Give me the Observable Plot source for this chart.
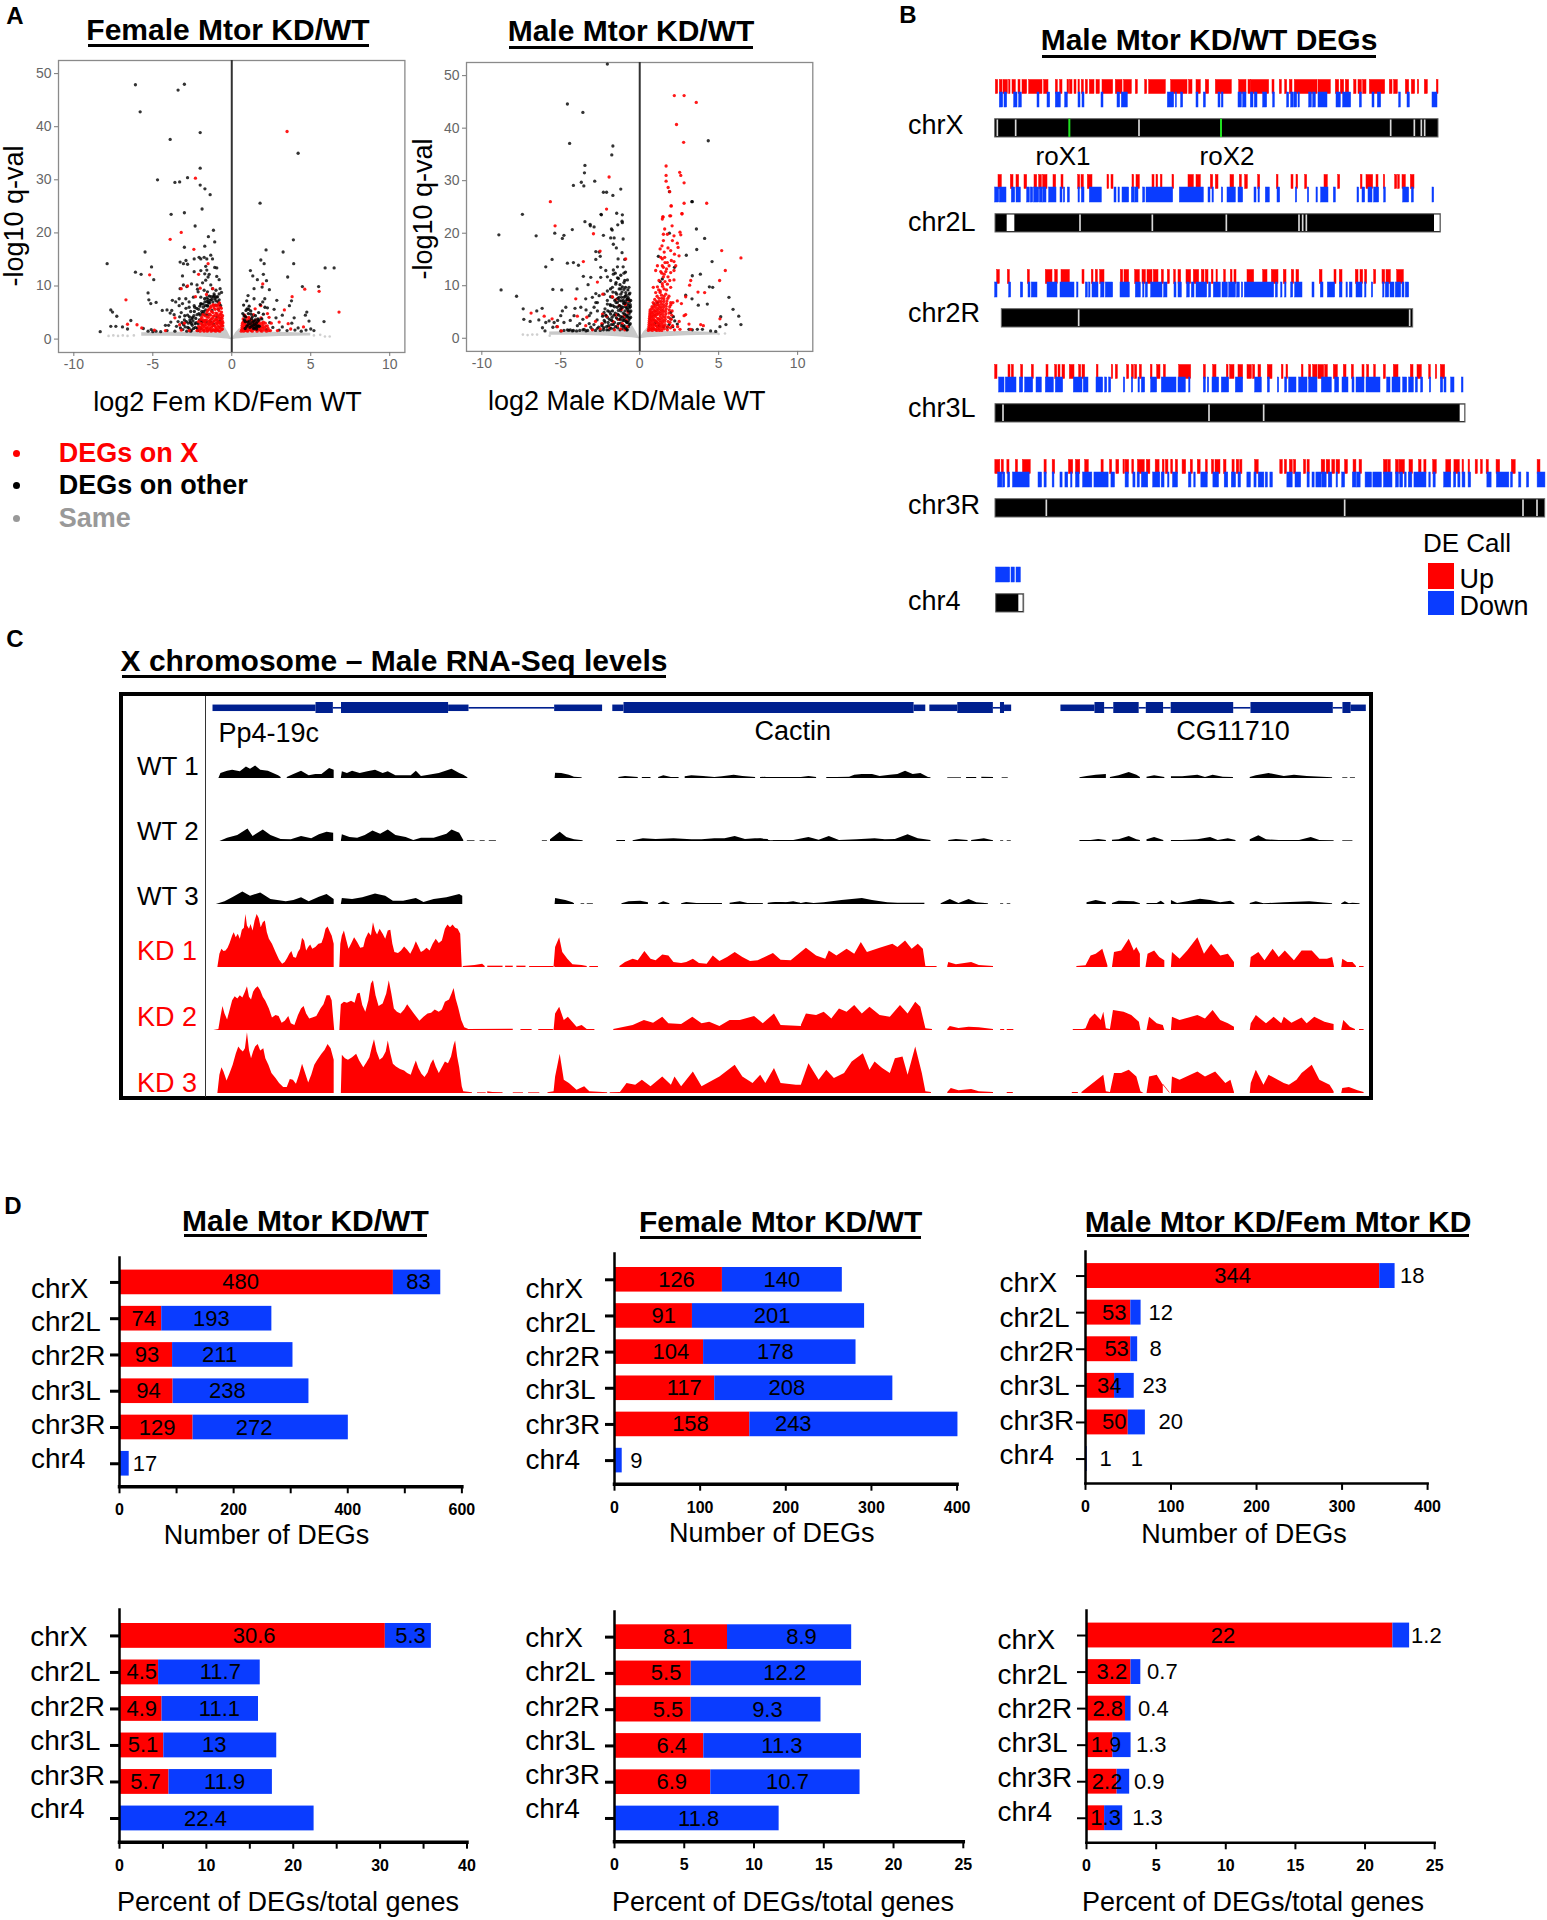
<!DOCTYPE html>
<html>
<head>
<meta charset="utf-8">
<style>
html,body{margin:0;padding:0;background:#fff}
#fig{position:relative;width:1547px;height:1920px;overflow:hidden;background:#fff;font-family:"Liberation Sans",Arial,sans-serif;color:#000}
#fig svg{position:absolute;background:transparent;max-width:none}
.t{position:absolute;white-space:nowrap;line-height:1}
</style>
<script src="https://cdn.jsdelivr.net/npm/d3@7"></script>
<script src="https://cdn.jsdelivr.net/npm/@observablehq/plot@0.6"></script>
</head>
<body>
<div id="fig"></div>
<script>
/* ---------- colours ---------- */
const RED = "#ff0000", BLUE = "#0a3cff", NAVY = "#00208f";

/* ---------- panel D values ---------- */
const chroms = ["chrX","chr2L","chr2R","chr3L","chr3R","chr4"];
const maleCountUp = [480,74,93,94,129,0];
const maleCountDown = [83,193,211,238,272,17];
const femaleCountUp = [126,91,104,117,158,0];
const femaleCountDown = [140,201,178,208,243,9];
const sexCountUp = [344,53,53,34,50,1];
const sexCountDown = [18,12,8,23,20,1];
const malePctUp = [30.6,4.5,4.9,5.1,5.7,0];
const malePctDown = [5.3,11.7,11.1,13,11.9,22.4];
const femalePctUp = [8.1,5.5,5.5,6.4,6.9,0];
const femalePctDown = [8.9,12.2,9.3,11.3,10.7,11.8];
const sexPctUp = [22,3.2,2.8,1.9,2.2,1.3];
const sexPctDown = [1.2,0.7,0.4,1.3,0.9,1.3];

/* ---------- panel A values: log2 fold change, -log10 q (flat pairs) ---------- */
const femaleOther = [
-6.1,47.9,-3,48,-3.4,46.9,-5.8,42.8,-3.9,37.6,-2,38.9,4.2,35,-2,32.2,-4.7,30,-2.8,30.4,-3.3,29.6,-3.6,29.5,-2,29,-1.7,28.3,-1.37,27.2,
1.79,25.6,-1.88,24.5,-3,23.8,-3.84,23.5,-2.32,21.3,-1.16,20.5,-1.48,19.3,-1.08,18.3,-1.71,17.5,-3,17.3,3.9,18.7,2.17,16.8,3.25,16.4,-5.49,16.4,
1.84,14.9,2.05,14.2,3.92,14.2,-7.89,14.2,5.91,13.4,6.48,13.4,1.18,12.9,2,12.2,1.33,11.9,3.54,11.7,-6.1,12.6,-5.74,12.2,-5.08,13.6,-4.94,11.2,
1.62,11.2,2.2,11,1.41,9.5,1.92,9.8,2.38,9.3,4.47,9.9,5.5,9.9,-5.3,8.7,-5.25,7.4,-5.13,6.7,-4.79,6.9,1.03,8.2,1.41,7.6,2.09,7.6,1.96,7,2.85,7.3,
3.65,6.3,3.78,7.2,2.26,5.9,2.68,5.6,3.2,4.5,4.75,5.1,4.66,4.5,3.95,4,4.89,3.4,5.84,3.3,-7.66,5.5,-7.55,5.1,-7.28,4.3,-6.39,3.5,-7.66,2.4,-7.34,2.4,
-6.92,2.3,-6.6,1.9,-8.33,1.4,-5.6,2,-5.1,1.8,-4.8,1.5,-4.5,1.4,-5.3,1.5,-5,1.4,-4.4,5.4,-4.1,5.5,-3.8,5.4,-3.9,4.9,-3.65,4.6,-4.2,2.6,-3.86,3.2,-4.1,1.6,-4,2.6,
-3.27,14.5,-3.06,14.2,-2.9,14.8,-2.8,14.1,-2.38,15.1,-2.07,15.4,-1.96,15.1,-1.75,15.4,-1.58,15.1,-1.33,15.8,-1.22,15.1,-1.65,13.7,-1.58,13,-1.08,13.5,-0.95,13.4,
-2.38,12.7,-1.96,12.9,-1.43,12.2,-1.71,12.3,-1.5,11.7,-0.95,11.8,-0.8,11.2,-3.12,11.9,-2.55,10.4,-2.2,10.2,-1.85,10.6,-1.65,11.1,-1.33,10.2,-3.06,10.2,-2.85,9.9,-3.27,9.5,
-2.13,8.9,-2.17,9.4,-1.75,9.2,-1.22,9.5,-1,9.2,-0.74,9.5,-1.54,8.9,-1.12,8.5,-0.8,8.5,-1.96,7.9,-1.58,7.8,-2.43,7.9,-2.91,7.6,-3.33,7.6,-3.76,7.3,-3.55,7,-3.12,6.7,-2.7,7,-3.33,6.3,-2.7,6,-1.96,6.7,-2.38,6.3,
-3.6,1.5,-3.5,2.4,-3.4,3.3,-3.3,4.2,-3.2,5,-3.1,1.8,-3,3.6,-2.95,2.3,-2.9,5.8,-2.85,1.5,-2.8,4.5,-2.75,3,-2.7,2,-2.65,3.6,-2.6,5.2,-2.55,1.7,-2.5,2.6,-2.45,3.4,-2.4,4.4,-2.35,6,-2.3,2.2,-2.25,3.1,-2.2,4.6,-2.15,1.6,-2.1,5.6,-2.05,3.6,-2,4.5,-1.95,6.6,-1.9,5.2,-1.85,3.2,-1.8,6,-1.75,4.6,-1.7,7,-1.65,5.5,-1.6,3.2,-1.55,6.4,-1.5,7.5,-1.45,4.6,-1.4,6.8,-1.35,3.3,-1.3,8,-1.25,5.4,-1.2,7,-1.15,2.8,-1.1,8.2,-1.05,6.4,-1,7.2,-0.95,4.2,-0.9,8,-0.85,5.6,-0.8,7.4,-0.75,3.4,-0.7,6.3,-0.65,8.8,
5.2,1.6,5,1.9,4.7,1.7,4.4,1.5,4.2,2.1,4,1.7,3.8,3,3.5,1.6,3.2,2.3,3,1.7,2.8,4,2.6,2.2,2.4,3.1,2.2,1.8
];
const femaleOtherDense = [
-2.6,1.5,-2.55,2.9,-2.48,4.1,-2.42,2,-2.37,5.2,-2.32,2.9,-2.28,3.9,-2.22,5.8,-2.18,2,-2.12,2.9,-2.08,4.8,-2.02,6.2,-1.97,2,-1.92,3.4,-1.87,4.8,-1.82,6.6,-1.77,5.2,-1.72,7.6,-1.67,6.3,-1.62,4.6,-1.57,7.1,-1.52,6.2,-1.47,6.9,-1.42,8.1,-1.37,7.3,-1.27,7.5,-1.17,8,-1.07,7.6,-0.97,7.9,-0.87,7,-0.77,6.6,-3.05,2.7,-3.15,3.1,-3.25,2.1,-2.98,4.4,-2.88,3.3,-2.78,2.2,-2.68,4.2,-2.62,3.2,-2.52,3.8,
0.7,4.8,0.75,6.4,0.8,3.6,0.85,2,0.9,5.4,0.95,7.2,1,3.2,1.05,4.8,1.1,6.2,1.15,2.2,1.2,5.3,1.25,3.8,1.3,4.2,1.35,2.6,1.4,3.4,1.45,2.1,1.5,4.4,1.55,3,1.6,2.3,1.65,3.8,1.7,5,1.75,2.4,1.8,6.5,1.9,3.8,2,4.7,2.1,6,
0.85,3.3,0.95,2.4,1.03,2.7,1.12,3.4,1.18,2.9,1.25,2.4,1.32,3.2,1.38,2,1.42,2.8,1.47,3.6,1.52,2.6,1.57,1.9,1.62,3.3,1.67,2.5,1.72,3.6,0.78,4.4,0.88,4.2,0.97,5.7,1.07,5.6,1.22,4.7
];
const femaleX = [
3.5,39.1,-2.3,30.3,-6.7,7.4,-2.4,16.9,-3.9,18.8,-3.2,20.1,-2.1,12.2,-5.2,12.1,-3.2,9.5,-2.8,10,-2,9.6,-1.5,14.2,-2.3,8,-1.6,8.4,-6.6,2.8,-6,2.7,-5.7,2.1,-4.9,1.7,-3.6,4,-3.3,2.7,-3,3,-3.2,1.7,-2.7,1.6,-4.2,1.6,-1.2,9.5,
6.79,5.1,5.53,9,4.62,9.4,3.82,8,3.33,5.5,1.96,10.4,1.84,6.3,2.26,4.8,3,3.2,3.57,2.9,3.73,1.9,4.54,2.3,2.89,1.6,2.36,4.1,1.48,5.7,
-2.2,1.6,-2.1,2.4,-2.1,3.3,-2,1.5,-2,2.2,-1.95,3,-1.9,4.1,-1.85,1.8,-1.85,2.7,-1.8,3.6,-1.75,1.5,-1.75,2.3,-1.7,3.1,-1.7,4.4,-1.65,1.9,-1.62,2.7,-1.6,3.6,-1.58,5,-1.55,1.5,-1.52,2.2,-1.5,3,-1.48,4.1,-1.45,5.6,-1.42,1.8,-1.4,2.6,-1.38,3.5,-1.35,4.5,-1.32,6.2,-1.3,1.5,-1.28,2.2,-1.25,3,-1.22,3.9,-1.2,5,-1.18,6.5,-1.15,1.8,-1.12,2.6,-1.1,3.4,-1.08,4.4,-1.05,5.6,-1.02,1.5,-1,2.1,-0.98,3,-0.96,3.8,-0.94,4.8,-0.92,6.2,-0.9,1.7,-0.88,2.5,-0.85,3.3,-0.83,4.2,-0.8,5.3,-0.78,6.8,-0.76,1.5,-0.74,2.1,-0.72,2.9,-0.7,3.8,-0.68,4.7,-0.66,5.8,-0.64,1.8,-0.62,2.6,-0.6,3.4,-0.58,4.4,
-2.05,1.9,-1.95,3.7,-1.88,2.2,-1.78,1.7,-1.72,2.6,-1.68,3.5,-1.6,2.1,-1.57,4.2,-1.53,1.7,-1.47,2.8,-1.44,3.4,-1.41,4.7,-1.37,2,-1.33,2.9,-1.31,3.8,-1.28,5.2,-1.24,1.7,-1.21,2.5,-1.19,3.3,-1.16,4.3,-1.13,5.9,-1.1,1.6,-1.06,2.4,-1.04,3.7,-1.01,4.9,-0.99,6.4,-0.97,1.9,-0.93,2.9,-0.91,3.5,-0.89,4.4,-0.87,5.7,-0.84,1.6,-0.82,2.2,-0.8,3.1,-0.77,3.9,-0.75,4.6,-0.73,6,-0.71,2.4,-0.69,3.2,-0.67,4.1,-0.65,5.1,-0.63,2.9,-0.61,3.9,-0.59,1.9,-0.57,2.5,-0.56,3.1,-1.9,2.7,-1.82,4.6,-1.76,3.3,-1.52,5.4,-1.35,5.9,-1.15,6.3,-0.86,6.5,
0.6,1.5,0.65,2.2,0.68,3,0.72,3.8,0.75,1.5,0.8,2.4,0.82,4.5,0.85,3.1,0.9,1.7,0.92,2.6,0.98,3.6,1,1.5,1.02,2.2,1.08,4.1,1.1,3,1.15,1.8,1.2,2.6,1.25,3.5,1.3,1.5,1.33,2.2,1.38,4.6,1.4,3,1.45,1.8,1.5,2.5,1.55,3.6,1.6,1.5,1.65,2.2,1.7,3,1.75,1.8,1.8,2.6,1.85,4,1.9,1.5,1.95,2.3,2,3.2,2.05,1.7,2.15,2.4,2.2,1.5,2.3,2,2.45,1.6,2.5,3,
0.63,1.8,0.66,2.6,0.7,1.9,0.74,3.3,0.78,2,0.81,2.9,0.84,1.6,0.88,3.4,0.91,4.1,0.94,2.1,0.97,1.6,1.03,3.3,1.06,2.6,1.09,1.8,1.13,3.8,1.17,2.3,1.22,1.6,1.27,3,1.31,2,1.36,3.3,1.42,2.4,1.47,3.1,1.52,2,1.57,2.9,1.62,1.8,1.67,2.6,1.72,3.4,1.78,2.1,1.83,1.6,1.88,3,1.93,2,1.98,2.7,2.08,2.1,2.12,3,2.25,2.5,2.35,1.6
];
const femaleSameFar = [-7.8,0.6,-7.5,0.7,-7.2,0.6,-6.9,0.7,-6.6,0.6,-6.2,0.7,5.9,0.5,6.2,0.5,5.6,0.8,5.2,0.7];
const maleOther = [
-2.05,52.2,-4.58,44.6,-3.6,43,-4.44,37.1,-1.7,36.6,-1.77,34.9,-3.47,32.9,-3.5,31.5,-2.85,29.9,-3.7,29.7,-4.2,29.1,-3.54,29,-1.2,28.4,-2.3,27.8,-2.1,27.8,-1.7,27.2,
-7.43,23.6,-2.43,23.5,-1.46,23.8,-1.1,23.5,-3.47,22.2,-3.13,21.4,-1.1,22,-1.39,21.6,-1.74,20.6,-4.27,20.7,-8.92,19.7,-6.56,19.5,-5.38,20,-4.8,19.6,-4.9,19,4.34,37.6,3.3,26,
-8.78,9.2,-7.8,8,-7.38,5.6,-6.52,5.2,-6.18,5.7,-7.34,3.6,-6.94,3.2,-6.39,3.5,-5.95,13.6,-5.55,15,-5.5,9.3,-4.94,9.2,-4.58,14.3,-4.2,14.4,-3.88,13.9,-3.97,9.4,-3.57,11.8,-3.1,11.6,-3.27,10.2,-3.42,7.5,-2.78,8.5,-3,7.8,-2.57,8.1,-2.78,6.8,
-3.14,21.7,-2.89,21.2,-2.45,23.6,-1.12,22.3,-1.79,20.8,-2.3,19.6,-1.84,19.1,-1.62,19.1,-1.05,18.9,-1.67,17.9,-1.48,17.2,-2.78,16.5,-2.57,16.4,-1.12,16.3,-2.5,15.6,-2.78,15,-1.37,15.1,-0.95,15,
-2.47,13.5,-2.15,12.9,-1.41,13.6,-1.67,13,-1.05,13.6,-1.67,12.2,-1,12.4,-2.05,11.7,-2.47,11.6,-1.41,11.5,-0.78,11.1,-1.84,11,-1.52,10.3,-1,10.6,-0.68,9.7,-1.2,9.4,-1.73,9.7,-2.05,9,-2.26,8.4,-1.52,8.7,-0.89,8.7,-1.2,8.4,-1.73,7.8,-1.31,7.8,-0.78,7.5,-1,6.8,-1.41,6.8,-1.84,6.2,-2.05,6.5,-2.68,6.8,-2.89,5.9,-3.2,4.3,-2.68,5.2,-3.73,5.9,-4.16,4.3,-4.68,5.9,-4.9,5.2,-5,4.3,-5.42,3,-5.74,3.3,-5.95,3,-6.16,2,-6,1.4,-5.25,2.2,-5,1.4,-4.58,1.6,-4.26,1.4,-3.95,2.4,-3.52,1.7,-3.1,2.1,-2.68,1.9,-2.36,2.7,-2.05,4,-1.84,4.6,-2.26,4.9,
-4.8,1.5,-4.5,1.5,-4.4,1.6,-4.2,1.5,-4,1.4,-3.8,1.5,-3.6,1.6,-3.4,1.4,-3.3,1.5,-3.2,2.8,-3,1.7,-2.9,2.6,-2.8,1.5,-2.7,3.5,-2.6,2.1,-2.5,1.5,-3.4,5.4,-3.6,3.6,-3.8,2.8,-4.4,3.4,-4.8,3,-5.2,3.4,-5.5,2.1,-4.1,5.7,-3.1,4.8,
-2.3,1.6,-2.25,3.4,-2.2,5.6,-2.1,2.2,-2.05,7.2,-2,3,-1.95,1.6,-1.9,5,-1.85,7.9,-1.8,2.6,-1.75,4,-1.7,6.2,-1.65,1.8,-1.6,3,-1.55,4.8,-1.5,6.8,-1.45,8.4,-1.4,2,-1.38,3.6,-1.35,5.3,-1.3,7.2,-1.25,1.6,-1.22,2.9,-1.2,4.1,-1.18,6,-1.15,7.8,-1.12,8.8,-1.1,1.8,-1.08,3.4,-1.05,4.8,-1.02,6.6,-1,7.8,-0.98,2.4,-0.95,3.8,-0.93,5.2,-0.9,6,-0.88,7,-0.86,8.2,-0.84,1.6,-0.82,3,-0.8,4.2,-0.78,5.5,-0.76,6.6,-0.74,7.8,-0.72,2.2,-0.7,3.4,-0.68,4.6,-0.66,5.8,-0.64,7,-0.62,8.6,-0.6,2.8,-0.58,4,-0.56,5.2,-0.6,6.4,-1.2,5.2,-1.4,4.6,-1.6,6,-1.7,8.8,-1.3,9.4,-1,9.3,
1.88,27.9,3.33,26,3.59,20.8,4.11,19,3.61,16.9,2.95,15.8,4.58,14.6,1.88,20,3.84,12.2,3.33,11.9,4.41,9.8,4.62,9.7,2.91,8.2,3.31,7.5,3.71,6.3,4.28,6.5,5.65,7.8,5.91,5.5,6.27,4.2,6.41,2.6,5.46,2.6,5.13,4.1,4.81,1.3,5.08,2.2,4.49,1.4,3.97,1.7,3.65,1.7,3.33,1.6,3.12,1.7
];
const maleOtherDense = [
-2.4,2.4,-2.35,4.2,-2.28,2,-2.2,3.1,-2.15,4.4,-2.08,1.6,-2.02,5.2,-1.98,2.4,-1.92,3.6,-1.87,6.4,-1.82,1.9,-1.78,3.4,-1.73,5.2,-1.68,2.6,-1.63,4.4,-1.58,7.2,-1.53,2.2,-1.48,3.9,-1.43,5.9,-1.39,7.6,-1.36,2.8,-1.33,4.4,-1.28,6.2,-1.24,3.6,-1.21,5.6,-1.17,7.1,-1.14,2.4,-1.11,4,-1.07,5.9,-1.04,7.2,-1.01,2.2,-0.99,3.4,-0.96,4.6,-0.94,6.6,-0.92,8,-0.89,1.9,-0.87,3.2,-0.85,4.4,-0.83,5.8,-0.81,7.4,-0.79,1.6,-0.77,3,-0.75,4,-0.73,5.2,-0.71,6.2,-0.69,7.4,-0.67,8.4,-0.65,2.6,-0.63,3.8,-0.61,5,-0.59,6,-0.57,7.2,-1.1,9.8,-0.9,9.7,-0.75,9.2,-1.25,10.2,-1.5,10.6,-1.35,11.4,-1.85,9.4,-0.95,11,-1.2,12,-1.55,12.4,-0.9,12.6,
1.96,4.9,2.13,4.1,1.96,3.7,2.22,3.3,2.38,2.7,1.86,2.6,1.75,2.1,2.09,2.2,1.01,3,1.22,2.4,1.5,2.2,0.91,6.5,1.12,6.8,1.43,11.3,1.29,10.8,2.2,13.5,1.18,15.6
];
const maleX = [
2.19,46.2,2.81,46.2,3.58,44.9,2.33,40.7,2.78,37.3,1.67,32.8,2.53,31.6,1.67,31,2.6,31,2.81,29.6,1.67,29.9,1.8,28.7,1.9,27.9,2.81,25.7,4.24,25.7,1.98,25.2,2.67,23.7,1.46,23.1,1.9,23.3,
2,25.2,1.48,23.1,1.96,23.3,2.68,23.7,1.43,22.7,2.05,21.4,1.58,20.8,2.55,20.2,2.6,19.7,1.5,19.8,1.75,19.8,2.17,19.5,2.07,18.6,1.5,18.6,2.38,18.1,2.43,17.3,1.41,17.6,1.79,17.2,1.96,16.7,1.29,17,2.2,16,2.49,15.7,1.33,15.4,1.43,15.1,1.58,15.4,1.75,14.4,2.17,14.6,1.12,13.8,1.43,13.8,1.86,13.8,2.28,13.8,1.01,12.9,1.33,12.7,1.65,12.7,1.96,12.5,2.17,12.9,1.5,11.7,1.79,11.7,2.17,11.1,1.22,11,1.43,10.4,1.75,10.3,0.86,9.7,1.12,9.8,1.54,9.4,1.96,9.7,1.29,8.7,1.01,8.7,1.65,8.4,1.96,6.8,2.38,7.1,2.64,6.6,2.91,7.9,3.23,11,3.16,10.1,3.69,8.8,4.11,8.7,5.19,16.7,6.41,15.3,5.42,12.9,5.06,11,2.81,4.3,2.91,4.5,3.12,2.7,3.86,2.6,4.03,2.4,5.08,3.7,2.55,1.7,3.23,1.7,
-5.66,26,-1.94,30.7,-2.1,24.6,-5.36,21.4,-2.93,19.9,-3.57,14.6,-0.89,15.1,-2.68,10.7,-4.05,7.5,-6.88,4.8,-6.05,4.2,-5.55,3.7,-5.21,2.2,-4.96,1.4,-3.95,4.2,-3.35,4,-3.42,2.4,-2.36,4.6,-2.34,8.4,-1.73,7.9,-2.51,16.6,
-1.9,2,-1.7,3.2,-1.6,1.6,-1.5,4.4,-1.4,2.4,-1.3,3.6,-1.2,1.8,-1.15,5.5,-1.1,2.8,-1,4.2,-0.95,1.6,-0.9,6.4,-0.85,3.4,-0.8,2.2,-0.75,5,-0.7,7.2,-1.3,6.2,-1.5,7.4,-2.1,4.2,-2.4,2.8,-2.5,1.8,-2.8,3.2,-3,1.6,
0.55,1.5,0.58,2.2,0.6,3,0.62,3.8,0.64,4.6,0.66,5.4,0.68,1.6,0.7,2.5,0.72,3.4,0.74,4.2,0.76,5,0.78,6,0.8,1.5,0.82,2.1,0.84,2.9,0.86,3.7,0.88,4.5,0.9,5.4,0.92,6.5,0.94,1.7,0.96,2.5,0.98,3.3,1,4.1,1.02,4.9,1.04,5.8,1.06,7,1.08,1.5,1.1,2.2,1.12,3,1.14,3.8,1.16,4.6,1.18,5.5,1.2,6.4,1.22,7.6,1.24,1.8,1.26,2.6,1.28,3.4,1.3,4.3,1.32,5.1,1.34,6,1.36,7,1.38,8.2,1.4,1.5,1.42,2.3,1.44,3.1,1.46,4,1.48,5,1.5,5.9,1.52,7,1.54,8,1.56,1.8,1.6,2.6,1.62,3.6,1.65,4.6,1.68,5.6,1.7,6.6,1.75,1.6,1.78,7.6,1.8,3.2,1.85,4.8,1.9,6,1.95,2,2,3.6,2.05,5.2,2.1,6.8,2.2,1.6,2.4,2.2,2.5,3.2,
0.57,1.8,0.59,2.6,0.61,3.4,0.63,4.2,0.65,5,0.67,2,0.69,2.9,0.71,3.8,0.73,4.6,0.75,5.6,0.77,1.8,0.79,2.5,0.81,3.3,0.83,4.1,0.85,4.9,0.87,5.9,0.89,1.9,0.91,2.7,0.93,3.5,0.95,4.4,0.97,5.2,0.99,6.2,1.01,1.6,1.03,2.4,1.05,3.2,1.07,4.5,1.09,5.3,1.11,6.4,1.13,1.9,1.15,2.8,1.17,3.6,1.19,4.9,1.21,5.9,1.23,7,1.25,1.5,1.27,2.2,1.29,3,1.31,3.8,1.33,4.7,1.35,5.5,1.37,6.5,1.39,7.6,1.41,1.9,1.43,2.7,1.45,3.5,1.47,4.5,1.49,5.4,1.51,6.4,1.53,7.5,1.55,2.3,1.58,3.2,1.61,4.1,1.64,5.1,1.67,6.1,1.72,7.1,1.77,2.2,1.82,4,1.87,5.4,1.92,3,1.97,6.4,2.03,4.4,2.08,2.4,1.3,9,1.45,9.9,1.6,10.8,1.7,9.2,1.85,8,1.1,8,1.2,9.2,0.95,7.4,0.85,6.8,1.55,12.2,1.7,13.2,1.4,12.4,1.9,11,1.5,13.5,1.6,14.4,1.55,16.4,2,14.8
];
const maleSameFar = [-7.4,0.7,-7.1,0.6,-6.8,0.7,-6.5,0.7,-5.7,0.5,5,0.8,5.4,0.9];
/* envelope of the solid grey "Same" cloud: log2 FC, lower, upper */
const sameFc   = [-5.7,-4,-3,-2,-1.2,-0.8,-0.5,-0.25,-0.05,0.05,0.25,0.5,0.8,1.5,3,5];
const sameLow  = [0.55,0.55,0.5,0.4,0.25,0.15,0.08,0,-0.1,-0.1,0,0.08,0.15,0.3,0.5,0.6];
const sameHigh = [1.2,1.3,1.3,1.5,1.6,2,2.6,1.4,0.2,0.2,1.2,2,1.4,1.3,1.3,1.1];

/* ---------- panel B values: gene intervals along each chromosome (start,end) ---------- */
const chrXUp = [10,17,22,30,33,46,50,54,60,70,78,84,90,104,110,150,155,168,190,196,203,210,225,230,232,240,246,252,258,262,268,274,280,286,292,306,312,322,330,362,370,390,395,418,430,436,458,464,470,520,536,585,590,600,612,625,640,650,670,718,740,762,768,775,775,830,840,846,862,868,878,884,892,900,907,975,978,1015,1030,1040,1045,1055,1060,1070,1085,1092,1098,1108,1112,1122,1132,1178,1192,1200,1205,1216,1240,1250,1258,1268,1276,1280,1297,1306,1333,1338];
const chrXDown = [22,32,36,44,65,75,80,88,135,141,165,173,190,205,218,226,258,264,270,276,327,333,375,383,388,406,526,545,550,553,566,572,612,618,634,640,678,684,688,693,738,748,752,762,775,783,787,795,812,824,842,847,884,890,896,904,906,914,918,922,950,958,962,970,978,1005,1032,1045,1052,1076,1102,1108,1140,1146,1156,1166,1220,1225,1245,1252,1320,1335];
const chr2LUp = [18,28,55,63,72,80,96,104,126,134,140,148,152,165,183,191,207,213,257,263,267,274,286,300,345,350,357,363,420,425,432,442,480,486,492,497,505,510,540,545,588,604,612,625,655,662,670,678,714,725,742,748,758,766,797,803,853,858,897,903,912,917,938,944,996,1006,1037,1043,1105,1110,1122,1142,1152,1158,1174,1178,1208,1214,1217,1222,1230,1240,1255,1266];
const chr2LDown = [8,20,22,42,58,68,72,85,104,112,115,122,125,140,142,150,152,162,170,192,204,210,214,218,226,232,258,262,268,276,292,328,366,372,378,382,390,410,418,426,428,438,452,458,462,542,562,634,648,654,660,664,688,692,705,730,738,752,786,792,798,802,820,832,855,863,910,914,946,950,972,976,986,1008,1024,1030,1095,1100,1110,1118,1128,1140,1145,1160,1175,1180,1232,1250,1258,1264,1320,1325];
const chr2RUp = [14,22,46,52,106,112,160,180,188,196,207,232,270,276,298,303,310,316,323,336,385,392,396,410,428,442,450,460,465,480,484,498,508,514,526,532,545,550,558,566,582,596,604,620,628,636,640,648,658,663,672,676,695,700,715,720,726,732,765,785,812,825,838,858,874,882,898,905,912,920,982,990,1026,1032,1042,1050,1090,1098,1104,1112,1118,1124,1145,1151,1170,1178,1182,1195,1214,1234];
const chr2RDown = [8,15,50,56,85,92,108,114,118,135,165,195,204,246,254,258,280,286,290,294,300,318,326,336,340,362,384,412,430,445,452,456,460,466,476,510,515,525,546,552,558,568,584,592,598,606,612,644,650,656,664,685,690,706,710,730,734,742,748,752,757,845,850,856,866,870,878,882,896,902,908,930,960,966,985,993,1006,1028,1042,1050,1062,1066,1072,1080,1092,1110,1118,1122,1138,1142,1172,1176,1180,1190,1194,1206,1210,1226,1230,1236,1240,1250];
const chr3LUp = [8,15,48,54,58,64,86,92,118,124,162,168,188,194,198,204,210,218,232,246,260,266,270,278,313,318,358,362,370,376,404,410,418,424,428,434,442,448,475,480,494,504,514,520,560,596,634,640,662,672,703,708,713,726,738,752,765,778,782,788,798,806,826,840,868,873,882,887,928,933,950,956,962,975,978,995,998,1006,1024,1036,1054,1062,1078,1084,1110,1116,1124,1130,1145,1150,1174,1180,1204,1218,1255,1263,1275,1288,1310,1315,1330,1334,1345,1358];
const chr3LDown = [20,36,40,72,82,92,98,122,132,148,160,184,190,212,244,270,274,288,312,332,338,344,350,356,394,398,418,422,438,442,448,458,476,494,508,552,558,580,590,594,634,640,646,650,660,680,688,710,730,752,788,808,826,832,856,860,878,884,890,912,920,945,950,975,988,1018,1028,1040,1050,1068,1080,1086,1092,1116,1122,1164,1184,1194,1200,1224,1232,1244,1250,1264,1270,1276,1286,1292,1312,1316,1345,1352,1356,1362,1376,1386,1408,1413];
/* chr3R was read at a slightly lower magnification: see chr3RRead below */
const chr3RUp = [8,22,26,32,42,48,66,72,86,108,147,153,170,177,216,228,236,248,262,272,308,314,332,338,350,358,370,374,376,386,395,400,411,430,436,446,461,472,481,486,490,497,505,510,518,524,537,547,560,566,580,588,603,608,620,626,630,644,654,661,678,684,690,697,700,706,742,752,813,820,826,832,840,848,852,858,880,886,890,896,930,940,944,954,960,968,972,982,996,1004,1020,1028,1037,1044,1106,1116,1118,1125,1140,1148,1150,1165,1178,1188,1205,1212,1220,1226,1245,1255,1282,1296,1305,1320,1328,1332,1345,1349,1365,1371,1380,1385,1396,1402,1424,1434,1467,1478,1540,1548];
const chr3RDown = [16,28,30,36,44,50,58,105,130,140,147,153,170,175,192,198,206,214,222,226,236,246,256,282,288,328,336,346,376,385,398,404,410,416,422,440,454,474,478,486,496,500,510,524,555,562,570,574,590,608,624,640,656,666,676,688,695,702,720,730,740,746,752,768,772,778,785,792,833,848,856,872,890,896,904,910,915,930,932,944,950,960,972,976,988,996,1018,1028,1030,1040,1054,1072,1076,1100,1106,1130,1140,1148,1152,1160,1165,1170,1176,1186,1192,1226,1234,1238,1246,1252,1276,1296,1304,1310,1316,1322,1328,1336,1345,1352,1398,1410,1425,1460,1465,1470,1488,1494,1510,1516,1540,1562];
const chr4Down = [11,53,57,67,72,85];
const chromExtent = {chrX:[8,1338],chr2L:[9,1345],chr2R:[28,1262],chr3L:[9,1419],chr3R:[9,1658],chr4:[11,95]};
const chromNarrowGaps = {chrX:[16,71,441,1196,1267,1288,1298],chr2L:[264,481,703,921,932,943],chr2R:[260,1253],chr3L:[33,651,815],chr3R:[163,1058,1593,1635],chr4:[]};
const chromWideGaps = [["chr2L",44,67],["chr2L",1326,1343],["chr3L",1403,1417],["chr4",79,92]];
const roXGenes = [232,687];
const chr3RRead = 3/2.825;

/* ---------- panel C values: coverage profiles, position then height, segment by segment ---------- */
const wt1Left = [
[428,0,432,15,445,22,455,25,470,20,482,35,490,28,500,38,510,25,525,22,545,8,550,3],
[562,3,575,12,590,22,605,8,618,12,630,12,645,30,654,25,654,0],
[668,0,670,20,680,15,690,22,705,15,720,20,735,25,750,15,760,20,775,8,805,8,815,22,825,6,840,10,860,15,885,28,900,15,908,10,916,2],
[1087,0,1088,16,1100,15,1115,10,1125,4,1140,2],
[1212,3,1225,6,1250,3],[1258,3,1275,3],[1290,3,1300,8,1315,3,1330,3],[1342,5,1355,8,1378,6,1400,3,1415,5,1438,10,1455,6,1480,3],[1490,3,1500,4]];
const wt1Right = [
[20,3,100,3,115,6,130,3],[150,3,170,3,195,4,205,10,220,12,240,12,255,6,275,10,290,12,305,22,320,12,335,15,350,3,355,2],
[388,2,415,2],[425,3,445,3],[455,4,478,3],[495,2,507,2],
[648,2,662,6,680,10,700,12,700,0],[708,3,725,8,745,18,760,10,767,3],[780,4,795,8,815,3],[828,5,850,5,880,10,895,3,910,10,930,4,950,3],[983,3,995,8,1020,15,1050,6,1070,10,1095,6,1145,2],[1165,2,1175,2],[1180,2,1190,2]];
const wt2Left = [
[430,0,445,10,465,18,485,38,495,15,515,35,530,18,550,6,570,5,590,15,610,8,625,20,640,28,653,25,653,0],
[668,0,670,20,685,12,700,10,715,18,730,32,745,22,760,35,775,18,795,12,810,3,825,10,850,10,875,22,885,35,900,25,908,3],
[915,2,930,2],[940,2,950,2],[958,2,972,2],[1062,2,1072,2],[1078,5,1097,28,1110,12,1125,5,1142,2],
[1208,3,1225,3],[1240,2,1260,8,1285,6,1320,8,1355,5,1375,5,1400,8,1420,8,1440,15,1460,6,1480,8,1505,6],[1515,2,1530,3,1565,2]];
const wt2Right = [
[0,3,20,8,40,2,60,3,85,3,115,12,135,4,155,15,175,3,210,5,245,8,265,5,285,6,310,20,330,8,355,3],
[390,3,405,6,428,3],[435,3,460,8,478,2],[492,2,498,2],[505,2,513,2],[648,3,670,3,685,6,700,3],[712,4,725,5,745,15,760,5,767,3],[780,5,795,12,813,3],[828,3,850,3,880,5,905,12,920,3,940,8,955,3],[983,5,1000,17,1015,5,1040,3,1080,3,1103,12,1120,3,1148,2],[1165,2,1185,2]];
const wt3Left = [
[423,0,440,8,455,20,475,38,490,25,510,35,530,15,560,8,575,12,590,20,605,8,625,22,640,30,654,15,654,0],
[668,0,670,18,690,15,710,20,735,32,755,25,770,10,790,10,815,18,830,6,850,15,875,20,900,30,906,25,906,0],
[1087,0,1088,18,1108,12,1122,5,1125,2],[1138,2,1145,2],[1150,2,1162,2],[1218,2,1232,8,1255,10,1270,5],[1290,2,1300,8,1312,2],[1335,2,1345,6,1365,3,1415,3],[1430,4,1450,8,1465,3,1495,2],[1505,3,1530,6,1550,3,1568,4]];
const wt3Right = [
[0,2,25,2],[35,4,50,6,70,5,85,8,100,3,110,6,125,3,145,5,180,12,200,15,220,18,240,12,270,5,290,4,343,4,343,0],
[375,2,393,15,410,3,430,15,445,5,468,2],[492,2,498,2],[505,2,512,2],[662,5,680,12,700,5,700,0],[712,3,725,10,755,8,767,2],[780,3,800,3,808,10,815,2],[828,12,840,3,860,8,885,16,905,12,925,5,945,10,953,2],[983,3,995,8,1010,2,1020,3,1050,5,1100,8,1145,2],[1163,2,1170,8,1178,2,1185,4,1199,2]];
const kd1Left = [
[426,0,430,40,434,55,438,48,442,50,446,58,450,72,455,95,458,105,462,90,466,100,470,85,474,112,478,118,481,160,484,125,488,115,491,130,495,110,499,140,503,160,507,148,511,120,515,135,519,140,523,105,527,85,533,70,540,45,547,22,553,10,558,15,563,28,567,40,571,48,575,30,580,28,584,45,588,55,592,88,596,80,600,50,604,60,608,68,612,55,618,60,624,70,630,72,634,90,638,115,642,122,646,108,650,95,654,70,654,0],
[665,0,667,70,670,95,674,110,678,85,683,55,688,70,694,90,700,75,706,58,712,60,716,85,722,105,727,95,731,135,735,110,739,98,744,115,750,100,755,85,760,110,765,112,769,70,773,45,780,42,786,50,792,62,798,52,804,40,810,58,815,78,820,62,825,45,830,50,836,58,842,50,848,70,854,85,860,72,866,80,872,115,877,128,882,120,887,128,892,118,897,115,902,100,905,0],
[907,0,907,3,930,6,945,10,950,3],[955,4,985,4],[990,4,1005,4],[1012,4,1030,4],[1037,3,1085,3],
[1085,0,1088,60,1096,90,1102,45,1112,25,1122,8,1140,6,1150,3],[1155,3,1172,3],
[1214,3,1225,15,1240,25,1250,20,1263,48,1275,25,1285,20,1298,38,1310,35,1320,15,1335,12,1345,15,1358,25,1370,12,1385,10,1397,35,1410,18,1425,30,1440,45,1455,30,1470,18,1485,20,1515,42,1530,22,1550,20]];
const kd1Right = [
[80,20,110,58,130,35,148,25,155,50,170,35,190,55,205,40,218,75,230,45,255,58,280,70,290,60,305,80,318,55,330,70,340,55,345,3,367,3],
[388,3,390,15,405,8,435,15,450,6,478,3],
[642,3,660,5,670,35,680,40,693,55,703,5],[712,0,716,45,730,50,745,85,755,50,760,60,767,40,767,0],[778,0,782,40,795,50,805,30,815,20,815,0],[828,0,830,45,845,25,860,50,880,90,893,40,907,70,925,35,940,40,952,15,952,0],[983,0,985,30,1000,45,1012,20,1028,55,1040,30,1052,50,1070,20,1085,50,1105,50,1120,25,1135,25,1145,30,1149,0],[1163,0,1165,25,1175,15,1185,15,1192,3],[1198,3,1207,3]];
const kd2Left = [
[418,0,428,3,432,40,436,72,440,50,445,32,450,60,455,90,460,102,465,95,470,105,475,98,480,115,484,132,488,100,492,92,496,115,500,125,505,132,510,120,515,100,520,88,527,65,533,38,540,45,546,42,552,22,558,28,565,42,570,20,577,15,584,45,590,65,595,72,600,50,606,35,612,38,620,42,628,65,634,78,640,105,646,105,650,90,655,0],
[665,0,668,78,674,85,680,82,688,88,695,82,700,110,705,112,710,75,716,55,722,90,727,140,731,150,736,105,742,72,750,80,757,110,762,150,767,110,772,65,778,55,785,50,792,62,798,78,804,65,810,52,816,40,822,28,830,40,838,50,845,52,852,62,860,55,866,62,872,85,880,92,885,110,889,127,893,95,898,68,904,30,910,8,918,3,1005,4],
[1020,3,1042,3],[1055,3,1083,3,1085,0],[1085,0,1088,50,1096,70,1105,30,1113,40,1130,10,1140,15,1150,3,1165,3],
[1202,3,1240,15,1262,30,1280,22,1298,40,1310,20,1335,18,1357,40,1375,20,1390,25,1410,12,1430,30,1450,30,1478,42,1495,20,1517,50,1530,15,1570,12]];
const kd2Right = [
[100,15,110,50,130,45,145,55,160,35,175,65,190,55,205,75,220,50,235,70,255,45,275,40,295,75,310,50,325,85,335,70,345,5,358,3],
[388,3,393,12,410,6,430,10,450,8,478,3],[492,3,500,3],[505,3,518,3],[635,3,650,3,655,3,660,5,668,35,678,50,690,30,695,55,700,5,708,3,714,60,735,55,750,45,765,25,768,0],[780,0,785,40,800,20,812,15,815,0],[828,0,830,40,845,30,880,45,895,35,910,60,925,30,940,20,952,10,952,0],[983,0,985,20,995,45,1015,20,1030,40,1045,20,1050,40,1065,22,1085,38,1095,20,1110,40,1130,25,1148,18,1148,0],[1163,0,1167,30,1180,10,1190,3],[1198,3,1207,3]];
const kd3Left = [
[426,0,430,55,434,78,438,65,444,38,450,60,456,85,462,118,467,140,471,132,476,125,480,135,484,183,488,130,492,105,496,125,500,140,505,148,510,128,516,135,520,105,526,85,532,60,540,45,547,30,555,18,562,18,568,42,574,40,580,28,586,55,592,88,598,60,604,32,610,55,616,85,622,100,630,118,636,130,642,148,648,135,654,100,654,0],
[668,0,670,115,676,105,682,100,690,108,698,118,704,98,712,78,718,92,724,108,729,140,733,162,738,125,744,100,750,108,756,125,760,158,765,120,770,88,776,80,784,72,792,68,798,60,805,55,810,78,815,98,820,75,826,58,832,48,838,62,844,88,849,102,854,80,860,60,866,78,872,95,878,90,884,110,889,145,892,158,896,110,900,78,905,20,908,5,925,2],
[935,2,952,2],[955,5,965,3,985,2],[1005,2,1025,2],[1035,2,1057,2],[1073,2,1085,5,1088,50,1097,118,1105,40,1115,30,1130,10,1145,20,1155,5,1190,2],
[1195,2,1215,3,1228,30,1245,25,1258,40,1275,20,1298,50,1315,25,1322,50,1335,20,1358,65,1375,20,1410,50,1440,85,1455,50,1475,30,1490,55,1500,30,1517,75,1530,30,1560,25]];
const kd3Right = [
[100,25,115,90,135,40,150,70,165,45,185,60,200,95,222,120,235,70,245,95,260,75,275,60,285,105,300,110,310,55,325,140,338,60,345,5,356,3],
[388,3,395,15,410,8,435,12,450,5,478,3],[505,3,517,3],[633,3,645,3],[652,3,670,25,695,55,700,5,708,3,716,60,730,60,745,70,760,50,768,5,774,0],[780,0,785,50,800,55,812,25,812,3,825,3],[828,0,830,50,845,40,880,65,895,50,915,65,935,30,945,40,952,3],[983,0,985,30,995,70,1010,25,1020,55,1050,30,1060,25,1075,40,1085,60,1105,85,1120,40,1140,25,1148,5],[1163,0,1165,15,1178,18,1195,8,1207,3]];
const rightHalfStart = 1470, rightHalfRead = 1.96/1.967;
const geneExons = [[618,652],[668,878],[1222,1792],[1878,1948],[1962,1970],[2148,2167],[2185,2235],[2249,2283],[2298,2421],[2455,2617],[2636,2652]];
const geneUtrs = [[416,618],[878,918],[1086,1180],[1200,1222],[1792,1815],[1823,1842],[1842,1878],[1970,1984],[2081,2148],[2652,2682]];
const geneIntrons = [[652,668],[918,1086],[1948,1962],[2167,2185],[2235,2249],[2283,2298],[2421,2455],[2617,2636]];

/* ---------- helpers ---------- */
const FONT = '"Liberation Sans",Arial,sans-serif';
const fig = document.getElementById("fig");
const pairs = f => d3.range(0, f.length, 2).map(i => ({fc:f[i], q:f[i+1]}));
function place(opts, left, top){
  const svg = Plot.plot({...opts, style:{fontFamily:FONT, background:"transparent"}});
  svg.style.left = left + "px"; svg.style.top = top + "px";
  fig.appendChild(svg); return svg;
}
function t(text, x, y, o={}){
  const d = document.createElement("div"); d.className = "t"; d.textContent = text;
  const a = o.anchor || "middle";
  d.style.cssText += `left:${x}px;top:${y}px;font-size:${o.size||27}px;font-weight:${o.weight||400};color:${o.color||"#000"};`
    + `transform:translate(${a==="start"?"0":"-50%"},-50%)${o.rotate?` rotate(${o.rotate}deg)`:""};`;
  fig.appendChild(d);
}
function box(x, y, w, h, color, extra=""){
  const d = document.createElement("div");
  d.style.cssText = `position:absolute;left:${x}px;top:${y}px;width:${w}px;height:${h}px;background:${color};${extra}`;
  fig.appendChild(d);
}
function title(text, cx, cy, x1, x2, uy){
  t(text, cx, cy, {size:30, weight:700});
  box(x1, uy-1.5, x2-x1, 3, "#000");
}

/* ---------- panel letters ---------- */
t("A", 15, 16, {size:24, weight:700});
t("B", 908, 15, {size:24, weight:700});
t("C", 15, 639, {size:24, weight:700});
t("D", 13, 1206, {size:24, weight:700});

/* ---------- panel A ---------- */
function volcano(other, dense, onX, topSide, sameFar, left, top, frameW, frameH, yDomain){
  const same = sameFc.map((fc,i)=>({fc, lo:sameLow[i], hi:sameHigh[i]}));
  const W = frameW + 80, H = frameH + 40;
  const denseAll = pairs(dense);
  const dot = (data, fill, op) => Plot.dot(data, {x:"fc", y:"q", r:1.65, fill, fillOpacity:op});
  place({
    width:W, height:H, marginLeft:60, marginRight:20, marginTop:10, marginBottom:30,
    x:{domain:[-10.97,10.96]}, y:{domain:yDomain},
    marks:[
      Plot.frame({stroke:"#8a8a8a", strokeWidth:1.3}),
      Plot.axisX({ticks:[-10,-5,0,5,10], tickFormat:d=>String(d), tickSize:4, tickPadding:3, stroke:"#777", fill:"#666", fontSize:14, label:null}),
      Plot.axisY({ticks:[0,10,20,30,40,50], tickFormat:d=>String(d), tickSize:4, tickPadding:3, stroke:"#777", fill:"#666", fontSize:14, label:null}),
      Plot.areaY(same, {x:"fc", y1:"lo", y2:"hi", fill:"#c9c9c9"}),
      Plot.dot(pairs(sameFar), {x:"fc", y:"q", r:1.3, fill:"#cfcfcf"}),
      dot(pairs(other), "#000", .8),
      dot(denseAll.filter(d=>!topSide(d)), "#000", .85),
      dot(pairs(onX), RED, .9),
      dot(denseAll.filter(topSide), "#000", .85),
      Plot.ruleX([0], {stroke:"#333", strokeWidth:2})
    ]
  }, left, top);
}
/* black shows through the red on the right of the female plot and on the left of the male plot */
volcano(femaleOther, femaleOtherDense, femaleX, d=>d.fc>0, femaleSameFar, -2.4, 50, 346.4, 292, [-2.52,52.47]);
volcano(maleOther, maleOtherDense, maleX, d=>d.fc<0, maleSameFar, 405.7, 51.8, 346.3, 288.9, [-2.5,52.5]);
title("Female Mtor KD/WT", 228, 30, 88, 369, 45);
title("Male Mtor KD/WT", 631, 31, 509, 753, 47);
t("-log10 q-val", 14, 216, {rotate:-90});
t("-log10 q-val", 423, 209, {rotate:-90});
t("log2 Fem KD/Fem WT", 227.6, 402);
t("log2 Male KD/Male WT", 626.7, 401);
[["DEGs on X",RED,453],["DEGs on other","#000",485],["Same","#999",518]].forEach(([s,c,y])=>{
  box(13,y-3.5,7,7,c,"border-radius:50%;");
  t(s,58.7,y,{weight:700,color:c,anchor:"start"});
});

/* ---------- panel B ---------- */
const chr3RScaled = a => a.map(v=>v*chr3RRead);
const ivals = (chrom, flat) => d3.range(0, flat.length, 2).map(i => ({chrom, a:flat[i], b:flat[i+1]}));
const upRug = [...ivals("chrX",chrXUp),...ivals("chr2L",chr2LUp),...ivals("chr2R",chr2RUp),...ivals("chr3L",chr3LUp),...ivals("chr3R",chr3RScaled(chr3RUp))];
const downRug = [...ivals("chrX",chrXDown),...ivals("chr2L",chr2LDown),...ivals("chr2R",chr2RDown),...ivals("chr3L",chr3LDown),...ivals("chr3R",chr3RScaled(chr3RDown)),...ivals("chr4",chr4Down)];
const chromBars = chroms.map(c=>({chrom:c,a:chromExtent[c][0],b:chromExtent[c][1]}));
const narrow = chroms.flatMap(c=>chromNarrowGaps[c].map(p=>({chrom:c,a:p-2.5,b:p+2.5})));
const wide = chromWideGaps.map(([chrom,a,b])=>({chrom,a,b}));
const rox = roXGenes.map(p=>({chrom:"chrX",a:p-3,b:p+3}));
const rug = (data,fill,y1,y2)=>Plot.rect(data,{x1:"a",x2:"b",y1,y2,fy:"chrom",fill,stroke:fill,strokeWidth:.5});
place({
  width:555, height:570, margin:0,
  x:{domain:[0,1665], axis:null},
  y:{domain:[95,0], axis:null},
  fy:{domain:chroms, padding:0, axis:null},
  marks:[
    rug(upRug,RED,4.5,18.5),
    rug(downRug,BLUE,17,32),
    Plot.rect(chromBars,{x1:"a",x2:"b",y1:43.7,y2:62,fy:"chrom",fill:"#000",stroke:"#666",strokeWidth:1}),
    Plot.rect(narrow,{x1:"a",x2:"b",y1:44.5,y2:61,fy:"chrom",fill:"#d8d8d8"}),
    Plot.rect(wide,{x1:"a",x2:"b",y1:44.5,y2:61,fy:"chrom",fill:"#fff"}),
    Plot.rect(rox,{x1:"a",x2:"b",y1:43.7,y2:62,fy:"chrom",fill:"#20e020"})
  ]
}, 992, 75);
title("Male Mtor KD/WT DEGs", 1209, 40, 1042, 1376, 56);
[["chrX",125.4],["chr2L",221.8],["chr2R",313.4],["chr3L",407.8],["chr3R",505],["chr4",600.6]].forEach(([s,y])=>t(s,908,y,{anchor:"start"}));
t("roX1",1063,156,{size:26});
t("roX2",1227,156,{size:26});
t("DE Call",1467,543,{size:26});
box(1428,563,25.6,26,RED);
box(1428,591.4,25.6,23.3,BLUE);
t("Up",1459.6,579,{anchor:"start"});
t("Down",1459.6,605.5,{anchor:"start"});

/* ---------- panel C ---------- */
const trackNames = ["WT 1","WT 2","WT 3","KD 1","KD 2","KD 3"];
const trackSeg = [[wt1Left,wt1Right],[wt2Left,wt2Right],[wt3Left,wt3Right],[kd1Left,kd1Right],[kd2Left,kd2Right],[kd3Left,kd3Right]];
/* the KD profiles run on unbroken across the join of the two readings */
const joined = ["KD 1","KD 2","KD 3"];
const rightPos = v => rightHalfStart + (v)*rightHalfRead;
const coverage = trackSeg.flatMap(([L,R],ti)=>{
  const rows=[], name=trackNames[ti];
  L.forEach((s,si)=>{ for(let i=0;i<s.length;i+=2) rows.push({track:name,seg:`${ti}L${si}`,pos:s[i],h:s[i+1]}); });
  R.forEach((s,si)=>{
    const seg = (si===0 && joined.includes(name)) ? `${ti}L${L.length-1}` : `${ti}R${si}`;
    for(let i=0;i<s.length;i+=2) rows.push({track:name,seg,pos:rightPos(s[i]),h:s[i+1]});
  });
  return rows;
});
box(119,691.7,1253.8,408.3,"transparent","box-sizing:border-box;border:4.5px solid #000;");
box(205.2,696,1,401,"#333");
const gx = {domain:[0,2744], range:[0,1400], axis:null};
const genePos = v => v>rightHalfStart ? rightPos(v-rightHalfStart) : v;
const geneMark = (rows,half)=>Plot.rect(rows,{x1:d=>genePos(d[0]),x2:d=>genePos(d[1]),y1:-half,y2:half,fill:NAVY});
place({
  width:1400, height:11.6, margin:0, x:gx, y:{domain:[-1,1], axis:null},
  marks:[ geneMark(geneIntrons,.14), geneMark(geneUtrs,.56), geneMark(geneExons,1) ]
}, 0, 701.7);
place({
  width:1400, height:379.2, margin:0, x:gx, y:{domain:[0,190], axis:null},
  fy:{domain:trackNames, padding:0, axis:null},
  marks:[
    Plot.areaY(coverage.filter(d=>d.track.startsWith("WT")),{x:"pos",y:"h",z:"seg",fy:"track",fill:"#000"}),
    Plot.areaY(coverage.filter(d=>d.track.startsWith("KD")),{x:"pos",y:"h",z:"seg",fy:"track",fill:RED})
  ]
}, 0, 713.5);
title("X chromosome – Male RNA-Seq levels", 394, 661, 122, 666, 676);
[["WT 1",766,"#000",26],["WT 2",831,"#000",26],["WT 3",896,"#000",26],["KD 1",951,RED,27],["KD 2",1017,RED,27],["KD 3",1083,RED,27]].forEach(([s,y,c,z])=>t(s,137,y,{size:z,color:c,anchor:"start"}));
t("Pp4-19c",218.4,732.7,{anchor:"start"});
t("Cactin",792.7,731);
t("CG11710",1233,731);

/* ---------- panel D ---------- */
function barPanel(c){
  const left = c.x0-100, top = c.axisTop-5;
  const W = c.x1-left+30, H = c.axisY-top+50;
  const p = .32, n = chroms.length;
  const R = c.lastBottom-c.firstTop, step = R/(n-p), band = step*(1-p);
  const rows = chroms.flatMap((ch,i)=>[
    {chrom:ch,call:"Up",value:c.up[i]},
    {chrom:ch,call:"Down",value:c.down[i]}]);
  const lab = [];
  chroms.forEach((ch,i)=>{
    if(c.upAt[i]!=null) lab.push({chrom:ch,at:c.upAt[i],s:String(c.up[i])});
    if(c.downAt[i]!=null) lab.push({chrom:ch,at:c.downAt[i],s:String(c.down[i])});
  });
  place({
    width:W, height:H, marginLeft:c.x0-left, marginRight:W-(c.x1-left), marginTop:5, marginBottom:H-(c.axisY-top),
    x:{domain:c.domain},
    y:{domain:chroms, type:"band", range:[c.firstTop-top,c.lastBottom-top], paddingInner:p, paddingOuter:0, round:false},
    color:{domain:["Up","Down"], range:[RED,BLUE]},
    marks:[
      Plot.barX(rows,{x:"value",y:"chrom",fill:"call"}),
      Plot.text(lab,{x:"at",y:"chrom",text:"s",fontSize:22,fill:"#000"}),
      Plot.frame({anchor:"left",stroke:"#000",strokeWidth:2.5}),
      Plot.frame({anchor:"bottom",stroke:"#000",strokeWidth:c.axisW||3.5}),
      Plot.axisX({ticks:c.ticks, tickFormat:d=>c.tickLabels.includes(d)?String(d):"", tickSize:7, tickPadding:10, strokeWidth:2, fontSize:16, fontWeight:700, fill:"#000", label:null}),
      Plot.axisY({tickFormat:()=>"", tickSize:c.yTick||9, strokeWidth:c.yTickW||3, label:null}),
      ...chroms.map((ch,i)=>Plot.text([ch],{
        x:c.domain[0], y:d=>d, text:d=>d, textAnchor:"start", fontSize:28, fill:"#000",
        dx:c.labelX-c.x0, dy:c.labelY[i]-(c.firstTop+band/2+i*step)}))
    ]
  }, left, top);
  t(c.xTitle, c.titleX, c.titleY);
}
const countLabel = "Number of DEGs", pctLabel = "Percent of DEGs/total genes";
barPanel({x0:118.6,x1:461,domain:[0,600],axisTop:1256.7,axisY:1486,firstTop:1269.3,lastBottom:1475.3,
  up:maleCountUp,down:maleCountDown,upAt:[212.4,42.5,48,51,66,null],downAt:[524,161,175.5,189,236,44.8],
  ticks:[0,100,200,300,400,500,600],tickLabels:[0,200,400,600],labelX:30,labelY:[1288,1321.7,1355.7,1390,1424,1458],
  xTitle:countLabel,titleX:266.6,titleY:1535});
barPanel({x0:614,x1:956.6,domain:[0,400],axisTop:1253.3,axisY:1484,firstTop:1267.3,lastBottom:1472.7,
  up:femaleCountUp,down:femaleCountDown,upAt:[72.4,57.5,65.7,81.4,88.7,null],downAt:[195.3,184,187.8,201.2,208.7,25.5],
  ticks:[0,100,200,300,400],tickLabels:[0,100,200,300,400],labelX:525,labelY:[1289,1322.7,1356.7,1390,1425,1460],
  xTitle:countLabel,titleX:771.7,titleY:1533});
barPanel({x0:1084.9,x1:1427,domain:[0,400],axisTop:1250.5,axisY:1482.4,firstTop:1262.6,lastBottom:1470.5,axisW:2.5,yTickW:2,
  up:sexCountUp,down:sexCountDown,upAt:[172,33.7,36.4,27.7,33.7,23.5],downAt:[382,88,82,81,99.6,60],
  ticks:[0,100,200,300,400],tickLabels:[0,100,200,300,400],labelX:999,labelY:[1282,1316.6,1351.5,1385.5,1420.4,1454.4],
  xTitle:countLabel,titleX:1244,titleY:1533.6});
barPanel({x0:119.3,x1:466.8,domain:[0,40],axisTop:1609.3,axisY:1842,firstTop:1623.3,lastBottom:1830.7,
  up:malePctUp,down:malePctDown,upAt:[15.5,2.56,2.56,2.7,3,null],downAt:[33.5,11.6,11.5,10.9,12.1,9.9],
  ticks:[0,5,10,15,20,25,30,35,40],tickLabels:[0,10,20,30,40],labelX:30,labelY:[1637.3,1672.3,1706.7,1741,1775.7,1809],
  xTitle:pctLabel,titleX:288,titleY:1901.7});
barPanel({x0:614.2,x1:963,domain:[0,25],axisTop:1610.7,axisY:1841,firstTop:1624,lastBottom:1830,
  up:femalePctUp,down:femalePctDown,upAt:[4.57,3.7,3.83,4.1,4.1,null],downAt:[13.4,12.2,10.96,12,12.4,6.03],
  ticks:[0,5,10,15,20,25],tickLabels:[0,5,10,15,20,25],labelX:525,labelY:[1637,1671.7,1706,1740.7,1774,1808],
  xTitle:pctLabel,titleX:783,titleY:1901.7});
barPanel({x0:1086,x1:1434.2,domain:[0,25],axisTop:1610.4,axisY:1842.7,firstTop:1623,lastBottom:1830.6,axisW:2.5,yTickW:2,
  up:sexPctUp,down:sexPctDown,upAt:[9.8,1.82,1.53,1.4,1.48,1.37],downAt:[24.4,5.45,4.8,4.65,4.5,4.38],
  ticks:[0,5,10,15,20,25],tickLabels:[0,5,10,15,20,25],labelX:997,labelY:[1640,1675,1709,1743,1777.5,1811.5],
  xTitle:pctLabel,titleX:1253,titleY:1902});
title("Male Mtor KD/WT", 305.4, 1220.7, 184, 427, 1235.7);
title("Female Mtor KD/WT", 780.6, 1221.7, 640, 921, 1237.7);
title("Male Mtor KD/Fem Mtor KD", 1278, 1221.7, 1087, 1469, 1235.6);
</script>
</body>
</html>
